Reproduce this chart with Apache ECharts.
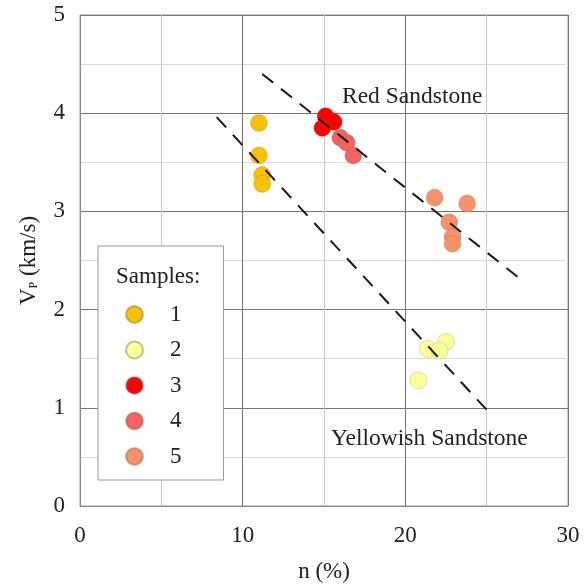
<!DOCTYPE html>
<html>
<head>
<meta charset="utf-8">
<script src="https://cdn.jsdelivr.net/npm/echarts@6/dist/echarts.min.js"></script>
<style>html,body{margin:0;padding:0;background:#fff}#c{width:584px;height:588px}</style>
</head>
<body>
<div id="c"></div>
<script>
// Sample data: [porosity n (%), Vp (km/s)]
const sample1 = [[11.0, 3.90], [11.0, 3.57], [11.2, 3.37], [11.2, 3.28]];
const sample2 = [[21.4, 1.60], [22.5, 1.67], [22.1, 1.58], [20.8, 1.28]];
const sample3 = [[15.1, 3.97], [15.6, 3.91], [14.9, 3.85]];
const sample4 = [[16.0, 3.75], [16.4, 3.70], [16.8, 3.57]];
const sample5 = [[21.8, 3.14], [23.8, 3.08], [22.7, 2.89], [22.9, 2.74], [22.9, 2.67]];
const redTrend = [[11.2, 4.40], [27.0, 2.32]];
const yellowTrend = [[8.4, 3.96], [25.0, 0.98]];
const sampleNames = ['1', '2', '3', '4', '5'];
const sampleColors = ['#F8C200', '#FFFF99', '#FF0000', '#F56262', '#F7916A'];
const xTicks = [0, 10, 20, 30];
const yTicks = [0, 1, 2, 3, 4, 5];

const FONT = 'Liberation Serif';
const chart = echarts.init(document.getElementById('c'));
const samples = [sample1, sample2, sample3, sample4, sample5];

const series = samples.map((d, i) => ({
  name: sampleNames[i],
  type: 'scatter',
  data: d,
  symbol: 'circle',
  symbolSize: 17,
  itemStyle: { color: sampleColors[i], opacity: 1, borderColor: 'rgba(120,100,60,0.4)', borderWidth: 0.6 },
  z: 3
}));
[redTrend, yellowTrend].forEach(d => series.push({
  type: 'line',
  data: d,
  symbol: 'none',
  silent: true,
  lineStyle: { color: '#1a1a1a', width: 2, type: [14, 10] },
  z: 4
}));

chart.setOption({
  animation: false,
  backgroundColor: '#fff',
  textStyle: { fontFamily: FONT },
  grid: { left: 80, top: 15, width: 488, height: 495, show: true, borderColor: '#999', borderWidth: 1 },
  xAxis: {
    type: 'value', min: 0, max: 30, interval: 10,
    name: 'n (%)', nameLocation: 'middle', nameGap: 54,
    nameTextStyle: { fontFamily: FONT, fontSize: 23, color: '#222' },
    axisLine: { show: true, lineStyle: { color: '#888' } },
    axisTick: { show: false },
    axisLabel: { fontFamily: FONT, fontSize: 23, color: '#222', margin: 18, formatter: v => xTicks.includes(v) ? String(v) : '' },
    splitLine: { show: true, lineStyle: { color: '#777', width: 1 } },
    minorTick: { show: false, splitNumber: 2 },
    minorSplitLine: { show: true, lineStyle: { color: '#c8c8c8', width: 1 } }
  },
  yAxis: {
    type: 'value', min: 0, max: 5, interval: 1,
    name: '{a|V}{b|P}{a| (km/s)}', nameLocation: 'middle', nameGap: 40,
    nameTextStyle: {
      fontFamily: FONT, color: '#222',
      rich: {
        a: { fontFamily: FONT, fontSize: 23, color: '#222' },
        b: { fontFamily: FONT, fontSize: 12, color: '#222', verticalAlign: 'bottom', padding: [11, 0, 0, 0] }
      }
    },
    axisLine: { show: true, lineStyle: { color: '#888' } },
    axisTick: { show: false },
    axisLabel: { fontFamily: FONT, fontSize: 23, color: '#222', margin: 15, formatter: v => yTicks.includes(v) ? String(v) : '' },
    splitLine: { show: true, lineStyle: { color: '#777', width: 1 } },
    minorTick: { show: false, splitNumber: 2 },
    minorSplitLine: { show: true, lineStyle: { color: '#dcdcdc', width: 1 } }
  },
  legend: {
    data: sampleNames,
    orient: 'vertical',
    left: 98, top: 246,
    padding: [57, 42, 12, 27],
    backgroundColor: '#fff',
    borderColor: '#999',
    borderWidth: 1,
    itemWidth: 17, itemHeight: 17,
    itemGap: 12.5,
    icon: 'circle',
    textStyle: { fontFamily: FONT, fontSize: 23, lineHeight: 20, color: '#222', padding: [0, 0, 0, 22] }
  },
  graphic: [
    { type: 'text', left: 116, top: 265, z: 100, style: { text: 'Samples:', fontFamily: FONT, fontSize: 23, fill: '#222' } },
    { type: 'text', left: 342, top: 85, z: 100, style: { text: 'Red Sandstone', fontFamily: FONT, fontSize: 23.5, fill: '#222' } },
    { type: 'text', left: 331, top: 427, z: 100, style: { text: 'Yellowish Sandstone', fontFamily: FONT, fontSize: 23.5, fill: '#222' } }
  ],
  series: series
});
</script>
</body>
</html>
